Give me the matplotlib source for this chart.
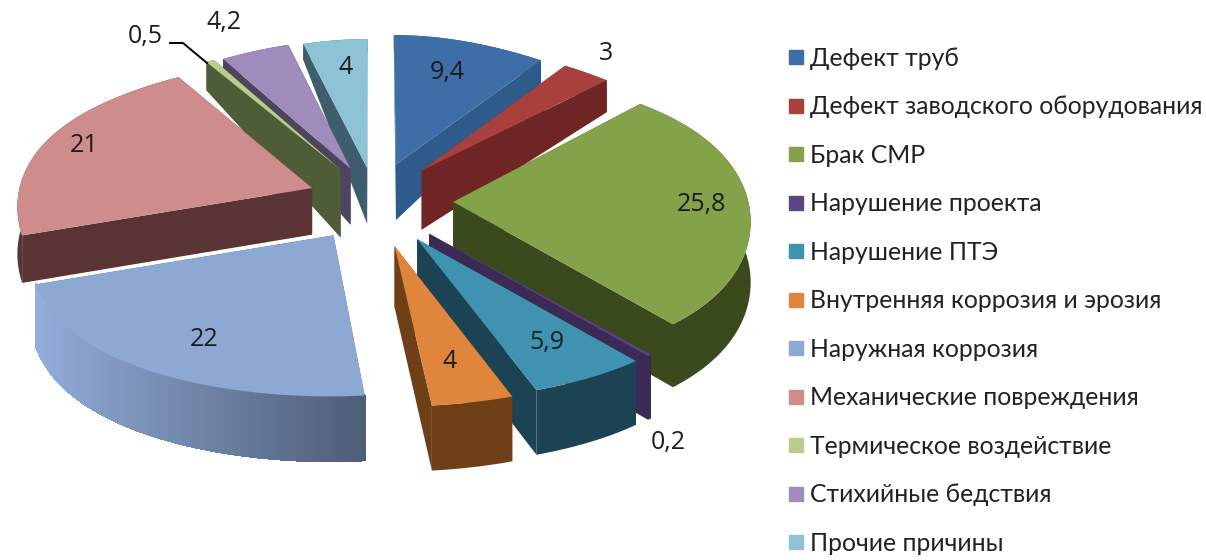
import numpy as np
import matplotlib
matplotlib.use("Agg")
import matplotlib.pyplot as plt
from matplotlib.lines import Line2D
from matplotlib.collections import PolyCollection

categories = ["Дефект труб", "Дефект заводского оборудования", "Брак СМР", "Нарушение проекта",
              "Нарушение ПТЭ", "Внутренняя коррозия и эрозия", "Наружная коррозия",
              "Механические повреждения", "Термическое воздействие", "Стихийные бедствия", "Прочие причины"]
values = [9.4, 3, 25.8, 0.2, 5.9, 4, 22, 21, 0.5, 4.2, 4]
value_labels = ["9,4", "3", "25,8", "0,2", "5,9", "4", "22", "21", "0,5", "4,2", "4"]
colors = ["#3d6ea8", "#a8413e", "#84a24a", "#5d4585", "#3f93b0", "#e0863c", "#8ea8d4", "#cf8c8c", "#b8cd8c", "#a08cbc", "#8ec3d6"]
side_colors = ["#2e5b8c", "#6f2523", "#3a4a1d", "#3b2a55", "#1b4354", "#6f3f17", "#4c5b75", "#5a3434", "#4e5d38", "#4d4560", "#3e5e6e"]
rim_light = [0, 0, 0, 0, 0, 0, 1.0, 0, 0, 0, 0]
wall_scale = [1, 1, 1, 1, 1, 1, 1, 0.78, 1.2, 1, 1]
explode = [0.25, 0.255, 0.265, 0.268, 0.27, 0.28, 0.25, 0.23, 0.235, 0.226, 0.217]
label_xy = [(447, 73), (606, 54), (701, 205), (668, 443), (547, 342), (450, 361), (204, 339), (84, 146), (145, 37), (224, 23), (346, 68)]

CX = 375
y_fit = np.polyfit([-1.5, -1.2, -0.2, 0, 0.19, 0.71, 0.9, 1.05, 1.2],
                   [445, 395, 234, 202, 170, 105, 81, 62, 42], 5)

fig = plt.figure(figsize=(12.06, 5.6), dpi=100)
ax = fig.add_axes([0, 0, 1, 1])
ax.set_xlim(0, 1206)
ax.set_ylim(560, 0)
ax.axis("off")
plt.rcParams["font.family"] = ["Open Sans", "DejaVu Sans"]


def proj(X, Y):
    X, Y = np.asarray(X, float), np.asarray(Y, float)
    return CX + X * 295 * (1 - 0.10 * Y), np.polyval(y_fit, Y)


def depth(Y):
    Y = np.asarray(Y, float)
    return np.where(Y < 0.2, 60 - 4 * Y, 59 - 8 * Y - 24 * Y ** 2)


def quad(x0, y0, x1, y1, k):
    xa, ya = proj(x0, y0)
    xb, yb = proj(x1, y1)
    return [(xa, ya), (xb, yb), (xb, yb + k * depth(y1)), (xa, ya + k * depth(y0))]


frac = np.array(values) / sum(values) * 2 * np.pi
ends = np.cumsum(frac)
starts = ends - frac
mids = (starts + ends) / 2
oxs = np.array(explode) * np.sin(mids)
oys = np.array(explode) * np.cos(mids)
order = np.argsort(oys + np.cos(mids) * 0.5)[::-1]

for z, i in enumerate(order):
    col = np.array(matplotlib.colors.to_rgb(colors[i]))
    side = np.array(matplotlib.colors.to_rgb(side_colors[i]))
    k = wall_scale[i]
    t = np.linspace(starts[i], ends[i], 80)
    X = oxs[i] + np.sin(t)
    Y = oys[i] + np.cos(t)
    faces = [quad(oxs[i], oys[i], X[0], Y[0], k), quad(oxs[i], oys[i], X[-1], Y[-1], k)]
    ax.add_collection(PolyCollection(faces, facecolors=[side] * 2, edgecolors="none", zorder=10 + z * 3))
    if rim_light[i] > 0:
        rim = [quad(X[j], Y[j], X[j + 1], Y[j + 1], k) for j in range(len(t) - 1)]
        shade = [np.clip(side + (col - side) * rim_light[i] * max(0, -X[j]), 0, 1) for j in range(len(t) - 1)]
        ax.add_collection(PolyCollection(rim, facecolors=shade, edgecolors=shade, linewidths=0.8,
                                         antialiaseds=False, zorder=11 + z * 3))
    else:
        tx, ty = proj(X, Y)
        ax.fill(np.r_[tx, tx[::-1]], np.r_[ty, (ty + k * depth(Y))[::-1]], color=side, lw=0, zorder=11 + z * 3)
    px, py = proj(np.r_[oxs[i], X], np.r_[oys[i], Y])
    ax.fill(px, py, color=col, lw=0, zorder=12 + z * 3)

for s, (x, y) in zip(value_labels, label_xy):
    ax.text(x, y, s, ha="center", va="center", fontsize=18, color="#1c1c1c", zorder=100)
ax.plot([170, 183, 207], [43, 43, 63], color="black", lw=1.4, zorder=100)

handles = [Line2D([], [], ls="", marker="s", ms=9.5, color=c) for c in colors]
fig.legend(handles, categories, loc="upper left", bbox_to_anchor=(784 / 1206, 1 - 47 / 560),
           frameon=False, labelspacing=1.03, handlelength=1.0, handletextpad=0.06,
           borderpad=0, borderaxespad=0, labelcolor="#222222", prop={"family": ["Lato", "Open Sans"], "size": 17.8})
fig.savefig("out.png", dpi=100, facecolor="white")
